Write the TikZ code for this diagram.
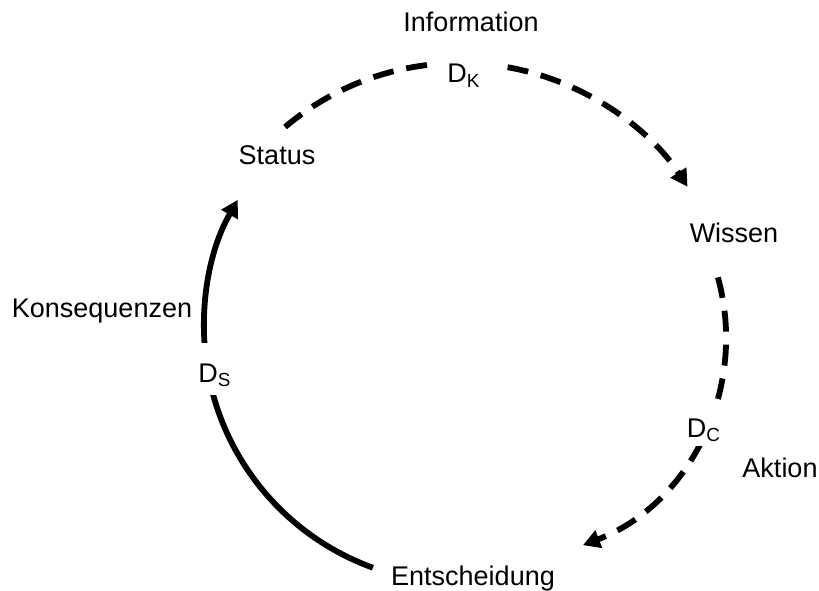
\documentclass[tikz,border=0pt]{standalone}
\usepackage{fontspec}
\setmainfont{Liberation Sans}
\usetikzlibrary{arrows.meta}
\begin{document}
\begin{tikzpicture}[x=0.5pt,y=0.5pt,
  lbl/.style={font=\fontsize{13.5}{16}\selectfont, inner sep=0pt, anchor=base},
  cutlbl/.style={lbl, fill=white},
  flow/.style={line width=2.9pt, -{Triangle[length=8.5pt,width=9pt]}},
  dashflow/.style={flow, dash pattern=on 10.5pt off 6.5pt},
]
\useasboundingbox (0,0) rectangle (819,590);

% cycle arcs
\draw[dashflow] ([shift={(460,256)}]130.2:271) arc[start angle=130.2, end angle=32.9, radius=271];
\draw[dashflow] ([shift={(503,253)}]15.5:223) arc[start angle=15.5, end angle=-69, radius=223];
\draw[flow] ([shift={(460,263)}]250.1:256) arc[start angle=250.1, end angle=150.2, radius=256];

% stage names
\node[lbl] (info) at (471,558) {Information};
\node[lbl] (status) at (277,425) {Status};
\node[lbl] (wissen) at (734,347) {Wissen};
\node[lbl] (kons) at (102,273) {Konsequenzen};
\node[lbl] (aktion) at (780,113) {Aktion};
\node[lbl] (entsch) at (473,5) {Entscheidung};

% arc labels, cutting the arcs
\node[cutlbl, text height=12pt, text depth=5pt, minimum width=34pt] (dk) at (464,507) {D\textsubscript{K}};
\node[cutlbl, text height=18.5pt, text depth=4.5pt, minimum width=20pt] (dc) at (704,153) {D\textsubscript{C}};
\node[cutlbl, text height=19.5pt, text depth=6.5pt, minimum width=20pt] (ds) at (215,208) {D\textsubscript{S}};
\end{tikzpicture}
\end{document}
